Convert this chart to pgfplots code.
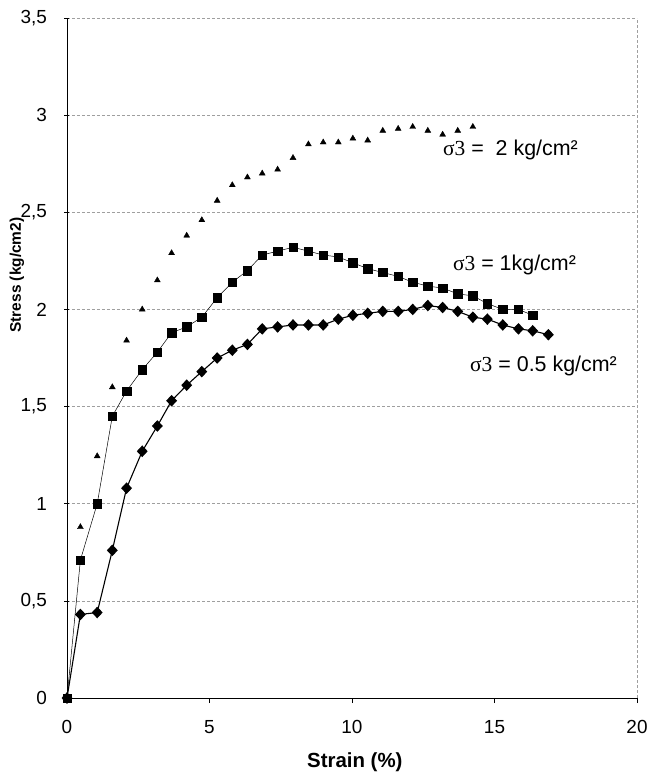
\documentclass[border=0pt]{standalone}
\usepackage{fontspec}
\setmainfont{Liberation Sans}
\newfontfamily\serif{Liberation Serif}
\usepackage{pgfplots}
\pgfplotsset{compat=1.18}

\begin{document}
\begin{tikzpicture}
\useasboundingbox (-67bp,-78bp) rectangle (582bp,698bp);
\begin{axis}[
  at={(0bp,0bp)}, anchor=south west,
  width=570bp, height=680bp, scale only axis,
  xmin=0, xmax=20, ymin=0, ymax=3.5,
  clip=false,
  axis x line*=bottom, axis y line*=left,
  axis line style={-, black, line width=0.8bp},
  xtick={0,5,10,15,20},
  ytick={0,0.5,1,1.5,2,2.5,3,3.5},
  xtick align=outside, ytick align=center,
  major tick length=5bp,
  tick style={black, line width=0.6bp},
  ymajorgrids=true,
  extra x ticks={20},
  extra x tick labels={},
  extra x tick style={xmajorgrids=true, major tick length=0bp},
  major grid style={gray!75, dash pattern=on 3bp off 2bp, line width=0.6bp},
  /pgf/number format/assume math mode=true,
  /pgf/number format/use comma,
  ticklabel style={font=\fontsize{19}{22}\selectfont},
  xticklabel style={yshift=-14bp},
  yticklabel style={xshift=-14bp},
  xlabel={Strain (\%)},
  ylabel={Stress (kg/cm2)},
  xlabel style={font=\bfseries\fontsize{20.5}{24}\selectfont, at={(axis description cs:0.505,-0.094)}, anchor=center},
  ylabel style={font=\bfseries\fontsize{15.5}{18}\selectfont, at={(axis description cs:-0.088,0.622)}, anchor=center},
]
% sigma3 = 0.5 kg/cm2
\addplot[black, line width=1.1bp, mark=diamond*, mark size=5bp, mark options={solid, fill=black, xscale=1.25}] coordinates {
(0,0) (0.47,0.43) (1.06,0.44) (1.59,0.76) (2.09,1.08) (2.64,1.27) (3.17,1.40) (3.67,1.53) (4.20,1.61) (4.73,1.68) (5.27,1.75) (5.80,1.79) (6.33,1.82) (6.85,1.90) (7.39,1.91) (7.93,1.92) (8.47,1.92) (8.99,1.92) (9.52,1.95) (10.03,1.97) (10.55,1.98) (11.08,1.99) (11.62,1.99) (12.13,2.00) (12.66,2.02) (13.18,2.01) (13.71,1.99) (14.24,1.96) (14.75,1.95) (15.29,1.92) (15.84,1.90) (16.34,1.89) (16.89,1.87)
};
% sigma3 = 1 kg/cm2
\addplot[black, line width=0.5bp, mark=square*, mark size=4.2bp, mark options={solid, fill=black}] coordinates {
(0,0) (0.47,0.71) (1.06,1.00) (1.59,1.45) (2.09,1.58) (2.64,1.69) (3.17,1.78) (3.67,1.88) (4.20,1.91) (4.73,1.96) (5.27,2.06) (5.80,2.14) (6.33,2.20) (6.85,2.28) (7.39,2.30) (7.93,2.32) (8.47,2.30) (8.99,2.28) (9.52,2.27) (10.03,2.24) (10.55,2.21) (11.08,2.19) (11.62,2.17) (12.13,2.14) (12.66,2.12) (13.18,2.11) (13.71,2.08) (14.24,2.07) (14.75,2.03) (15.29,2.00) (15.84,2.00) (16.34,1.97)
};
% sigma3 = 2 kg/cm2
\addplot[only marks, black, mark=triangle*, mark size=3.4bp, mark options={fill=black}] coordinates {
(0,0) (0.47,0.88) (1.06,1.245) (1.59,1.60) (2.09,1.84) (2.64,2.00) (3.17,2.15) (3.67,2.29) (4.20,2.38) (4.73,2.46) (5.27,2.56) (5.80,2.64) (6.33,2.68) (6.85,2.70) (7.39,2.72) (7.93,2.78) (8.47,2.85) (8.99,2.86) (9.52,2.86) (10.03,2.88) (10.55,2.87) (11.08,2.92) (11.62,2.93) (12.13,2.94) (12.66,2.92) (13.18,2.90) (13.71,2.92) (14.24,2.94)
};
\node[anchor=west, font=\fontsize{21.5}{25}\selectfont, inner sep=0pt] at (axis cs:13.19,2.82) {{\serif σ3} =\ \ 2 kg/cm²};
\node[anchor=west, font=\fontsize{21.5}{25}\selectfont, inner sep=0pt] at (axis cs:13.54,2.23) {{\serif σ3} = 1kg/cm²};
\node[anchor=west, font=\fontsize{21.5}{25}\selectfont, inner sep=0pt] at (axis cs:14.14,1.71) {{\serif σ3} = 0.5 kg/cm²};
\end{axis}
\end{tikzpicture}
\end{document}
